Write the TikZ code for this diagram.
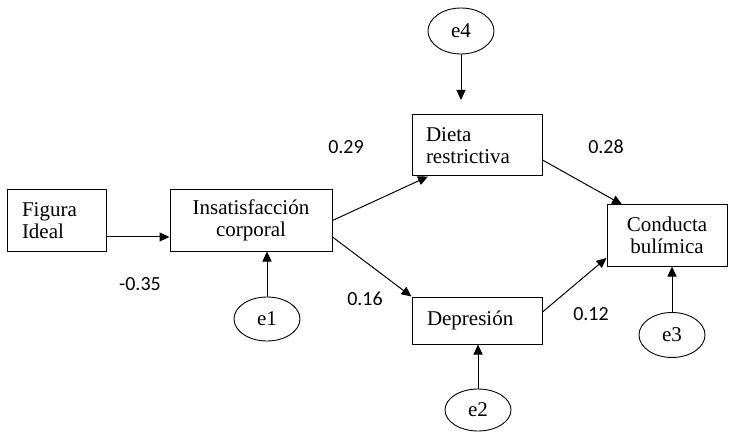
\documentclass[tikz,border=0pt]{standalone}
\usepackage{fontspec}
\setmainfont{Liberation Serif}
\newfontfamily\coeffont{Carlito}
\usetikzlibrary{arrows.meta,shapes.geometric}

\tikzset{
  var/.style={draw, line width=1pt, rectangle, inner ysep=0pt,
    font=\fontsize{21}{22.5}\selectfont},
  err/.style={draw, ellipse, line width=0.9pt, inner sep=0pt,
    minimum width=66pt, minimum height=44pt, font=\fontsize{21}{22.5}\selectfont},
  link/.style={line width=1pt, -{Triangle[length=10pt,width=9pt]}},
  coef/.style={font=\coeffont\fontsize{20}{24}\selectfont, inner sep=0pt}
}

\begin{document}
\begin{tikzpicture}[x=1pt, y=-1pt]
  \useasboundingbox (0,0) rectangle (729,433);

  % observed variables
  \node[var, align=left, text width=69pt, inner xsep=15pt, minimum height=61pt]
    (fig) at (56.5,220.5) {Figura\\Ideal};
  \node[var, align=center, text width=140pt, inner xsep=11pt, minimum height=61pt]
    (ins) at (251,220.5) {Insatisfacción\\corporal};
  \node[var, align=left, text width=102pt, inner xsep=14pt, minimum height=61pt]
    (die) at (477,145.5) {Dieta\\restrictiva};
  \node[var, align=left, text width=100pt, inner xsep=15pt, minimum height=47pt]
    (dep) at (477,320.5) {Depresión};
  \node[var, align=center, text width=100pt, inner xsep=10pt, minimum height=61pt]
    (con) at (667,235.5) {Conducta\\bulímica};

  % error terms
  \node[err, minimum height=46pt] (e4) at (461,31) {e4};
  \node[err] (e1) at (267,319) {e1};
  \node[err, minimum height=42pt] (e2) at (478,410) {e2};
  \node[err, minimum height=45pt] (e3) at (672,335) {e3};
  \coordinate (e4tip) at (461,100);

  % structural paths
  \draw[link] ([yshift=-16.5pt]fig.east) -- ([yshift=-16.5pt]ins.west);
  \draw[link] (ins.east) -- ([xshift=-49pt]die.south);
  \draw[link] ([yshift=-16.5pt]ins.east) -- (dep.north west);
  \draw[link] ([yshift=-14.5pt]die.east) -- ([xshift=-45pt]con.north);
  \draw[link] ([yshift=8.5pt]dep.east) -- ([yshift=-22.5pt]con.west);

  % error paths
  \draw[link] (e4.south) -- (e4tip);
  \draw[link] (e1.north) -- (e1.north |- ins.south);
  \draw[link] (e2.north) -- (e2.north |- dep.south);
  \draw[link] (e3.north) -- (e3.north |- con.south);

  % path coefficients
  \node[coef] (c29) at (346,147) {0.29};
  \node[coef] (c28) at (606,147) {0.28};
  \node[coef] (c35) at (140,284) {-0.35};
  \node[coef] (c16) at (365,299) {0.16};
  \node[coef] (c12) at (591,314) {0.12};
\end{tikzpicture}
\end{document}
